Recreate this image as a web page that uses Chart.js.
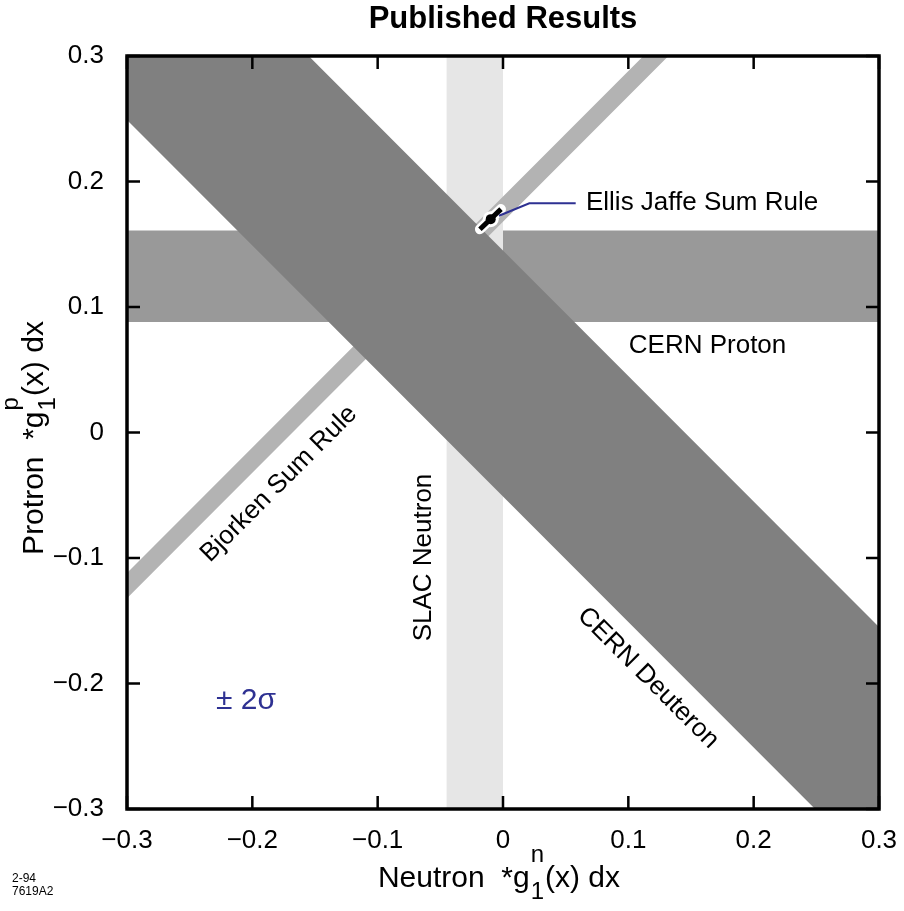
<!DOCTYPE html>
<html lang="en">
<head>
<meta charset="UTF-8">
<title>Published Results</title>
<script src="https://cdn.jsdelivr.net/npm/chart.js"></script>
<style>
  html, body { margin: 0; padding: 0; background: #fff; }
</style>
</head>
<body>
<canvas id="sumRules" width="904" height="911"></canvas>
<script>
// axis range
const axisMin = -0.3, axisMax = 0.3, tickStep = 0.1;

// measured bands (+-2 sigma)
const protonRange = [0.088, 0.161];     // CERN proton, int g1p
const neutronRange = [-0.045, 0.0];     // SLAC neutron, int g1n
const deuteronRange = [-0.051, 0.145];  // CERN deuteron, g1p + g1n
const bjorkenRange = [0.168, 0.188];    // Bjorken sum rule, g1p - g1n

// Ellis-Jaffe prediction: segment ends and centre
const ellisJaffeN = [-0.0184, -0.0098, -0.0016];
const ellisJaffeP = [0.162, 0.170, 0.178];

// pointer from the label to the Ellis-Jaffe point
const pointerN = [-0.0032, 0.021, 0.058];
const pointerP = [0.1727, 0.1826, 0.1826];

const NAVY = '#2e3192';
const FONT = "'Liberation Sans', Arial, Helvetica, sans-serif";

// band polygons, drawn far past the axes and clipped by the chart area
const far = 1;
function hBand(r) {
  return [{x: -far, y: r[0]}, {x: far, y: r[0]}, {x: far, y: r[1]}, {x: -far, y: r[1]}, {x: -far, y: r[0]}];
}
function vBand(r) {
  return [{x: r[0], y: -far}, {x: r[1], y: -far}, {x: r[1], y: far}, {x: r[0], y: far}, {x: r[0], y: -far}];
}
function sumBand(r) {   // p + n in r
  return [{x: -far, y: r[0] + far}, {x: far, y: r[0] - far}, {x: far, y: r[1] - far}, {x: -far, y: r[1] + far}, {x: -far, y: r[0] + far}];
}
function diffBand(r) {  // p - n in r
  return [{x: -far, y: r[0] - far}, {x: far, y: r[0] + far}, {x: far, y: r[1] + far}, {x: -far, y: r[1] - far}, {x: -far, y: r[0] - far}];
}
function band(data, color) {
  return { data, showLine: true, fill: 'shape', backgroundColor: color, borderWidth: 0, pointRadius: 0 };
}

const ejLine = [0, 2].map(i => ({x: ellisJaffeN[i], y: ellisJaffeP[i]}));
const ejMid = [{x: ellisJaffeN[1], y: ellisJaffeP[1]}];
const pointer = pointerN.map((n, i) => ({x: n, y: pointerP[i]}));

// text placed in data coordinates
const notes = [
  {text: 'Ellis Jaffe Sum Rule', n: 0.0662, p: 0.1829, rot: 0, align: 'left'},
  {text: 'CERN Proton', n: 0.1632, p: 0.0690, rot: 0},
  {text: 'Bjorken Sum Rule', n: -0.1788, p: -0.041, rot: -45},
  {text: 'SLAC Neutron', n: -0.063, p: -0.0996, rot: -90},
  {text: 'CERN Deuteron', n: 0.1157, p: -0.1956, rot: 45},
  {text: '\u00b1 2\u03c3', n: -0.205, p: -0.2139, rot: 0, color: NAVY, size: 30}
];

function fmt(v) {
  if (Math.abs(v) < 1e-9) return '0';
  return v.toFixed(1).replace('-', '\u2212');
}

// label with sub/superscript block: parts are strings or {sup, sub}
function drawScripted(ctx, parts, cx, cy, rot) {
  const main = '30px ' + FONT, small = '24px ' + FONT;
  let w = 0;
  const widths = parts.map(p => {
    let pw;
    if (typeof p === 'string') { ctx.font = main; pw = ctx.measureText(p).width; }
    else { ctx.font = small; pw = Math.max(ctx.measureText(p.sup).width, ctx.measureText(p.sub).width) + 2; }
    w += pw;
    return pw;
  });
  ctx.save();
  ctx.translate(cx, cy);
  ctx.rotate(rot);
  ctx.fillStyle = '#000';
  ctx.textAlign = 'left';
  ctx.textBaseline = 'alphabetic';
  let x = -w / 2;
  parts.forEach((p, i) => {
    if (typeof p === 'string') { ctx.font = main; ctx.fillText(p, x, 0); }
    else {
      ctx.font = small;
      ctx.fillText(p.sup, x + 1, -25);
      ctx.fillText(p.sub, x + 1, 12);
    }
    x += widths[i];
  });
  ctx.restore();
}

const decorations = {
  id: 'decorations',
  afterDraw(chart) {
    const {ctx, chartArea: a, scales: {x, y}} = chart;
    ctx.save();
    // inward ticks on all four sides
    ctx.strokeStyle = '#000';
    ctx.lineWidth = 2.5;
    const tl = 13;
    ctx.beginPath();
    x.ticks.forEach(t => {
      const px = x.getPixelForValue(t.value);
      ctx.moveTo(px, a.bottom); ctx.lineTo(px, a.bottom - tl);
      ctx.moveTo(px, a.top); ctx.lineTo(px, a.top + tl);
    });
    y.ticks.forEach(t => {
      const py = y.getPixelForValue(t.value);
      ctx.moveTo(a.left, py); ctx.lineTo(a.left + tl, py);
      ctx.moveTo(a.right, py); ctx.lineTo(a.right - tl, py);
    });
    ctx.stroke();
    // frame
    ctx.lineWidth = 3.5;
    ctx.strokeRect(a.left, a.top, a.right - a.left, a.bottom - a.top);

    // annotations
    notes.forEach(nt => {
      ctx.save();
      ctx.translate(x.getPixelForValue(nt.n), y.getPixelForValue(nt.p));
      ctx.rotate(nt.rot * Math.PI / 180);
      ctx.font = (nt.size || 26) + 'px ' + FONT;
      ctx.fillStyle = nt.color || '#000';
      ctx.textAlign = nt.align || 'center';
      ctx.textBaseline = 'middle';
      ctx.fillText(nt.text, 0, 0);
      ctx.restore();
    });

    // title
    ctx.font = 'bold 31px ' + FONT;
    ctx.fillStyle = '#000';
    ctx.textAlign = 'center';
    ctx.textBaseline = 'alphabetic';
    ctx.fillText('Published Results', (a.left + a.right) / 2, 28);

    // axis titles
    drawScripted(ctx, ['Neutron  *g', {sup: 'n', sub: '1'}, '(x) dx'], 499, 887, 0);
    drawScripted(ctx, ['Protron  *g', {sup: 'p', sub: '1'}, '(x) dx'], 43, 438, -Math.PI / 2);

    // plate number
    ctx.font = '12px ' + FONT;
    ctx.textAlign = 'left';
    ctx.fillText('2-94', 12, 882);
    ctx.fillText('7619A2', 12, 895);
    ctx.restore();
  }
};

Chart.defaults.font.family = FONT;
Chart.defaults.color = '#000';

new Chart(document.getElementById('sumRules'), {
  type: 'scatter',
  data: {
    datasets: [
      // first dataset is drawn on top
      {data: ejMid, pointRadius: 5, pointBackgroundColor: '#000', pointBorderWidth: 0},
      {data: ejLine, showLine: true, borderColor: '#000', borderWidth: 5, pointRadius: 0},
      {data: pointer, showLine: true, borderColor: NAVY, borderWidth: 2, pointRadius: 0},
      {data: ejMid, pointRadius: 8, pointBackgroundColor: '#fff', pointBorderWidth: 0},
      {data: ejLine, showLine: true, borderColor: '#fff', borderWidth: 10, borderCapStyle: 'round', pointRadius: 0},
      band(sumBand(deuteronRange), '#808080'),
      band(diffBand(bjorkenRange), '#b3b3b3'),
      band(vBand(neutronRange), '#e6e6e6'),
      band(hBand(protonRange), '#999999')
    ]
  },
  options: {
    responsive: false,
    animation: false,
    events: [],
    layout: { padding: { top: 56, right: 25, left: 0, bottom: 0 } },
    plugins: { legend: { display: false }, tooltip: { enabled: false }, title: { display: false } },
    scales: {
      x: {
        type: 'linear', min: axisMin, max: axisMax,
        grid: { display: false, drawTicks: false },
        border: { display: false },
        ticks: { stepSize: tickStep, padding: 16, font: { size: 26 }, callback: fmt },
        afterFit: s => { s.height = 102; s.paddingLeft = 0; s.paddingRight = 0; }
      },
      y: {
        type: 'linear', min: axisMin, max: axisMax,
        grid: { display: false, drawTicks: false },
        border: { display: false },
        ticks: { stepSize: tickStep, padding: 23, font: { size: 26 }, callback: fmt },
        afterFit: s => { s.width = 127; s.paddingTop = 0; s.paddingBottom = 0; }
      }
    }
  },
  plugins: [decorations]
});
</script>
</body>
</html>
